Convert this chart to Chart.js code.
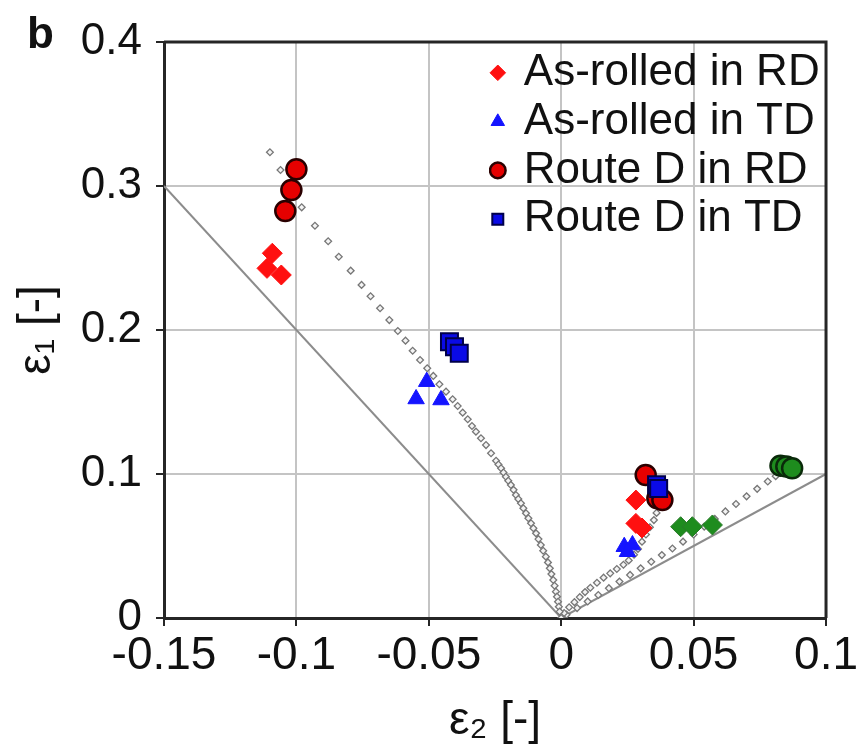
<!DOCTYPE html>
<html>
<head>
<meta charset="utf-8">
<script src="https://cdn.jsdelivr.net/npm/chart.js@4.4.1/dist/chart.umd.min.js"></script>
<style>
  body { margin: 0; background: #fff; }
  #wrap { position: relative; width: 861px; height: 749px; font-family: "Liberation Sans", Arial, sans-serif; color: #111; }
  #panel { position: absolute; left: 27px; top: 11px; font-size: 44px; line-height: 1; font-weight: bold; }
</style>
</head>
<body>
<div id="wrap">
  <canvas id="grafica" width="861" height="749"></canvas>
  <div id="panel">b</div>
</div>
<script>
// ejes
const xTicks = [-0.15, -0.1, -0.05, 0, 0.05, 0.1];
const xTickLabels = ["-0.15", "-0.1", "-0.05", "0", "0.05", "0.1"];
const yTicks = [0, 0.1, 0.2, 0.3, 0.4];
const yTickLabels = ["0", "0.1", "0.2", "0.3", "0.4"];

// medidas
const rolledRdX = [-0.1091, -0.1111, -0.1057, 0.0282, 0.0282, 0.0305];
const rolledRdY = [0.2533, 0.2428, 0.2382, 0.0819, 0.0657, 0.0625];
const rolledTdX = [-0.0508, -0.0548, -0.0454, 0.0238, 0.0269, 0.0250];
const rolledTdY = [0.1641, 0.1521, 0.1514, 0.0495, 0.0507, 0.0460];
const routeRdX = [-0.1000, -0.1019, -0.1042, 0.0319, 0.0363, 0.0382];
const routeRdY = [0.3116, 0.2972, 0.2826, 0.0993, 0.0831, 0.0819];
const routeTdX = [-0.0422, -0.0403, -0.0385, 0.0360, 0.0368];
const routeTdY = [0.1919, 0.1884, 0.1838, 0.0925, 0.0900];
const greenDiaX = [0.0451, 0.0495, 0.0571];
const greenDiaY = [0.0634, 0.0634, 0.0646];
const greenCirX = [0.0828, 0.0850, 0.0872];
const greenCirY = [0.1058, 0.1052, 0.1040];

// trayectorias
const pathLeftX = [-0.110, -0.106, -0.102, -0.098, -0.093, -0.088, -0.084, -0.0795, -0.0754, -0.072,
  -0.0684, -0.0649, -0.0617, -0.0588, -0.0561, -0.0533, -0.0506, -0.0483, -0.046, -0.0435,
  -0.041, -0.0391, -0.0372, -0.0353, -0.0337, -0.0322, -0.0303, -0.0284, -0.0265, -0.0246,
  -0.0237, -0.0227, -0.0218, -0.0209, -0.0200, -0.019, -0.018, -0.0171, -0.0162, -0.0152,
  -0.0143, -0.0133, -0.0124, -0.0114, -0.0105, -0.0095, -0.0086, -0.0077, -0.0068, -0.0058,
  -0.005, -0.0043, -0.0037, -0.003, -0.0025, -0.002, -0.0016, -0.0012, -0.0009, -0.0006, 0];
const pathLeftY = [0.3234, 0.3111, 0.2983, 0.2852, 0.2724, 0.2616, 0.2509, 0.2412, 0.2313, 0.2234,
  0.2151, 0.2069, 0.1993, 0.1926, 0.1856, 0.1792, 0.1734, 0.1681, 0.1623, 0.1572,
  0.1519, 0.1472, 0.1426, 0.138, 0.1333, 0.1294, 0.1248, 0.1201, 0.1144, 0.1092,
  0.1066, 0.104, 0.101, 0.0981, 0.0953, 0.0924, 0.089, 0.0854, 0.0826, 0.0797,
  0.0762, 0.0727, 0.0693, 0.0658, 0.0623, 0.0588, 0.0548, 0.0507, 0.0467, 0.0426,
  0.0386, 0.0345, 0.0305, 0.0264, 0.0224, 0.0183, 0.0148, 0.0113, 0.0078, 0.0044, 0];
const pathRightAX = [0.0011, 0.003, 0.005, 0.007, 0.009, 0.011, 0.0135, 0.016, 0.0185, 0.021,
  0.0235, 0.0255, 0.0275, 0.029, 0.0305, 0.032, 0.0335, 0.035, 0.036, 0.037];
const pathRightAY = [0.0035, 0.0075, 0.011, 0.0145, 0.018, 0.021, 0.0245, 0.028, 0.031, 0.034,
  0.037, 0.040, 0.044, 0.048, 0.053, 0.058, 0.063, 0.068, 0.073, 0.078];
const pathRightBX = [0.002, 0.006, 0.010, 0.014, 0.018, 0.022, 0.026, 0.030, 0.034, 0.038,
  0.042, 0.046, 0.050, 0.054, 0.058, 0.062, 0.066, 0.070, 0.074, 0.078, 0.081];
const pathRightBY = [0.0023, 0.0069, 0.0115, 0.016, 0.0207, 0.0253, 0.0299, 0.0345, 0.0391, 0.0437,
  0.0483, 0.053, 0.058, 0.0635, 0.0688, 0.074, 0.0792, 0.0845, 0.0897, 0.0948, 0.0985];

// límites
const limitLeftX = [-0.15, 0];
const limitLeftY = [0.3, 0];
const limitRightX = [0, 0.1];
const limitRightY = [0, 0.1];

const pts = (xs, ys) => xs.map((x, i) => ({ x: x, y: ys[i] }));
const FONT = "'Liberation Sans', Arial, sans-serif";

function marker(label, xs, ys, style, radius, fill, border, bw) {
  return {
    label: label,
    data: pts(xs, ys),
    pointStyle: style,
    pointRadius: radius,
    backgroundColor: fill,
    borderColor: border,
    borderWidth: bw,
    showLine: false
  };
}

function path(xs, ys) {
  return {
    data: pts(xs, ys),
    pointStyle: "rectRot",
    pointRadius: 3.4,
    backgroundColor: "#f4f4f4",
    borderColor: "#777777",
    borderWidth: 1.3,
    showLine: false
  };
}

function limit(xs, ys) {
  return {
    data: pts(xs, ys),
    showLine: true,
    pointRadius: 0,
    borderColor: "#8c8c8c",
    borderWidth: 2
  };
}

// el primero se dibuja encima
const datasets = [
  marker("Route D in TD", routeTdX, routeTdY, "rect", 12, "#0a0ae6", "#00004a", 2),
  marker("Route D in RD", routeRdX, routeRdY, "circle", 10, "#e60000", "#2a0000", 2.5),
  marker("As-rolled in TD", rolledTdX, rolledTdY, "triangle", 9.5, "#1414ff", "#1414ff", 1),
  marker("As-rolled in RD", rolledRdX, rolledRdY, "rectRot", 10, "#ff1010", "#ff1010", 1),
  marker("", greenCirX, greenCirY, "circle", 10, "#1e8c1e", "#0a2a0a", 2.5),
  marker("", greenDiaX, greenDiaY, "rectRot", 10, "#1e8c1e", "#2a7a2a", 1),
  path(pathLeftX, pathLeftY),
  path(pathRightAX, pathRightAY),
  path(pathRightBX, pathRightBY),
  limit(limitLeftX, limitLeftY),
  limit(limitRightX, limitRightY)
];

const legendOrder = ["As-rolled in RD", "As-rolled in TD", "Route D in RD", "Route D in TD"];

// marco superior y derecho
const marco = {
  id: "marco",
  afterDraw(chart) {
    const a = chart.chartArea;
    const c = chart.ctx;
    c.save();
    c.strokeStyle = "#262626";
    c.lineWidth = 3;
    c.beginPath();
    c.moveTo(a.left, a.top);
    c.lineTo(a.right, a.top);
    c.lineTo(a.right, a.bottom);
    c.stroke();
    c.restore();
  },
  afterLayout(chart) {
    // leyenda dentro del área
    chart.legend.left = 489;
    chart.legend.top = 46;
  }
};

const titleFont = { family: FONT, size: 46, lineHeight: 0.78 };

const ctx = document.getElementById("grafica").getContext("2d");
const chart = new Chart(ctx, {
  type: "scatter",
  data: { datasets: datasets },
  options: {
    responsive: false,
    animation: false,
    layout: { padding: { left: 0, right: 34, top: 42, bottom: 0 } },
    plugins: {
      tooltip: { enabled: false },
      legend: {
        position: "chartArea",
        align: "start",
        labels: {
          usePointStyle: true,
          boxWidth: 8,
          boxHeight: 11,
          padding: 4.8,
          color: "#111",
          font: { family: FONT, size: 44 },
          filter: item => item.text !== "" && item.text !== undefined,
          sort: (a, b) => legendOrder.indexOf(a.text) - legendOrder.indexOf(b.text)
        }
      }
    },
    scales: {
      x: {
        type: "linear",
        min: -0.15,
        max: 0.1,
        afterBuildTicks: s => { s.ticks = xTicks.map(v => ({ value: v })); },
        afterFit: s => { s.height = 131; },
        ticks: {
          callback: (v, i) => xTickLabels[i],
          color: "#111",
          padding: 3,
          maxRotation: 0,
          font: { family: FONT, size: 46 }
        },
        grid: { color: "#c4c4c4", lineWidth: 2, tickColor: "#262626", tickLength: 8, tickWidth: 2 },
        border: { color: "#262626", width: 3 },
        title: {
          display: true,
          text: "ε₂ [-]",
          color: "#111",
          padding: { top: 0, bottom: 10 },
          font: titleFont
        }
      },
      y: {
        type: "linear",
        min: 0,
        max: 0.4,
        afterBuildTicks: s => { s.ticks = yTicks.map(v => ({ value: v })); },
        afterFit: s => { s.width = 164; },
        ticks: {
          callback: (v, i) => yTickLabels[i],
          color: "#111",
          padding: 14,
          font: { family: FONT, size: 44 }
        },
        grid: { color: "#c4c4c4", lineWidth: 2, tickColor: "#262626", tickLength: 8, tickWidth: 2 },
        border: { color: "#262626", width: 3 },
        title: {
          display: true,
          text: "ε₁ [-]",
          color: "#111",
          padding: { top: 19, bottom: 0 },
          font: titleFont
        }
      }
    }
  },
  plugins: [marco]
});
</script>
</body>
</html>
